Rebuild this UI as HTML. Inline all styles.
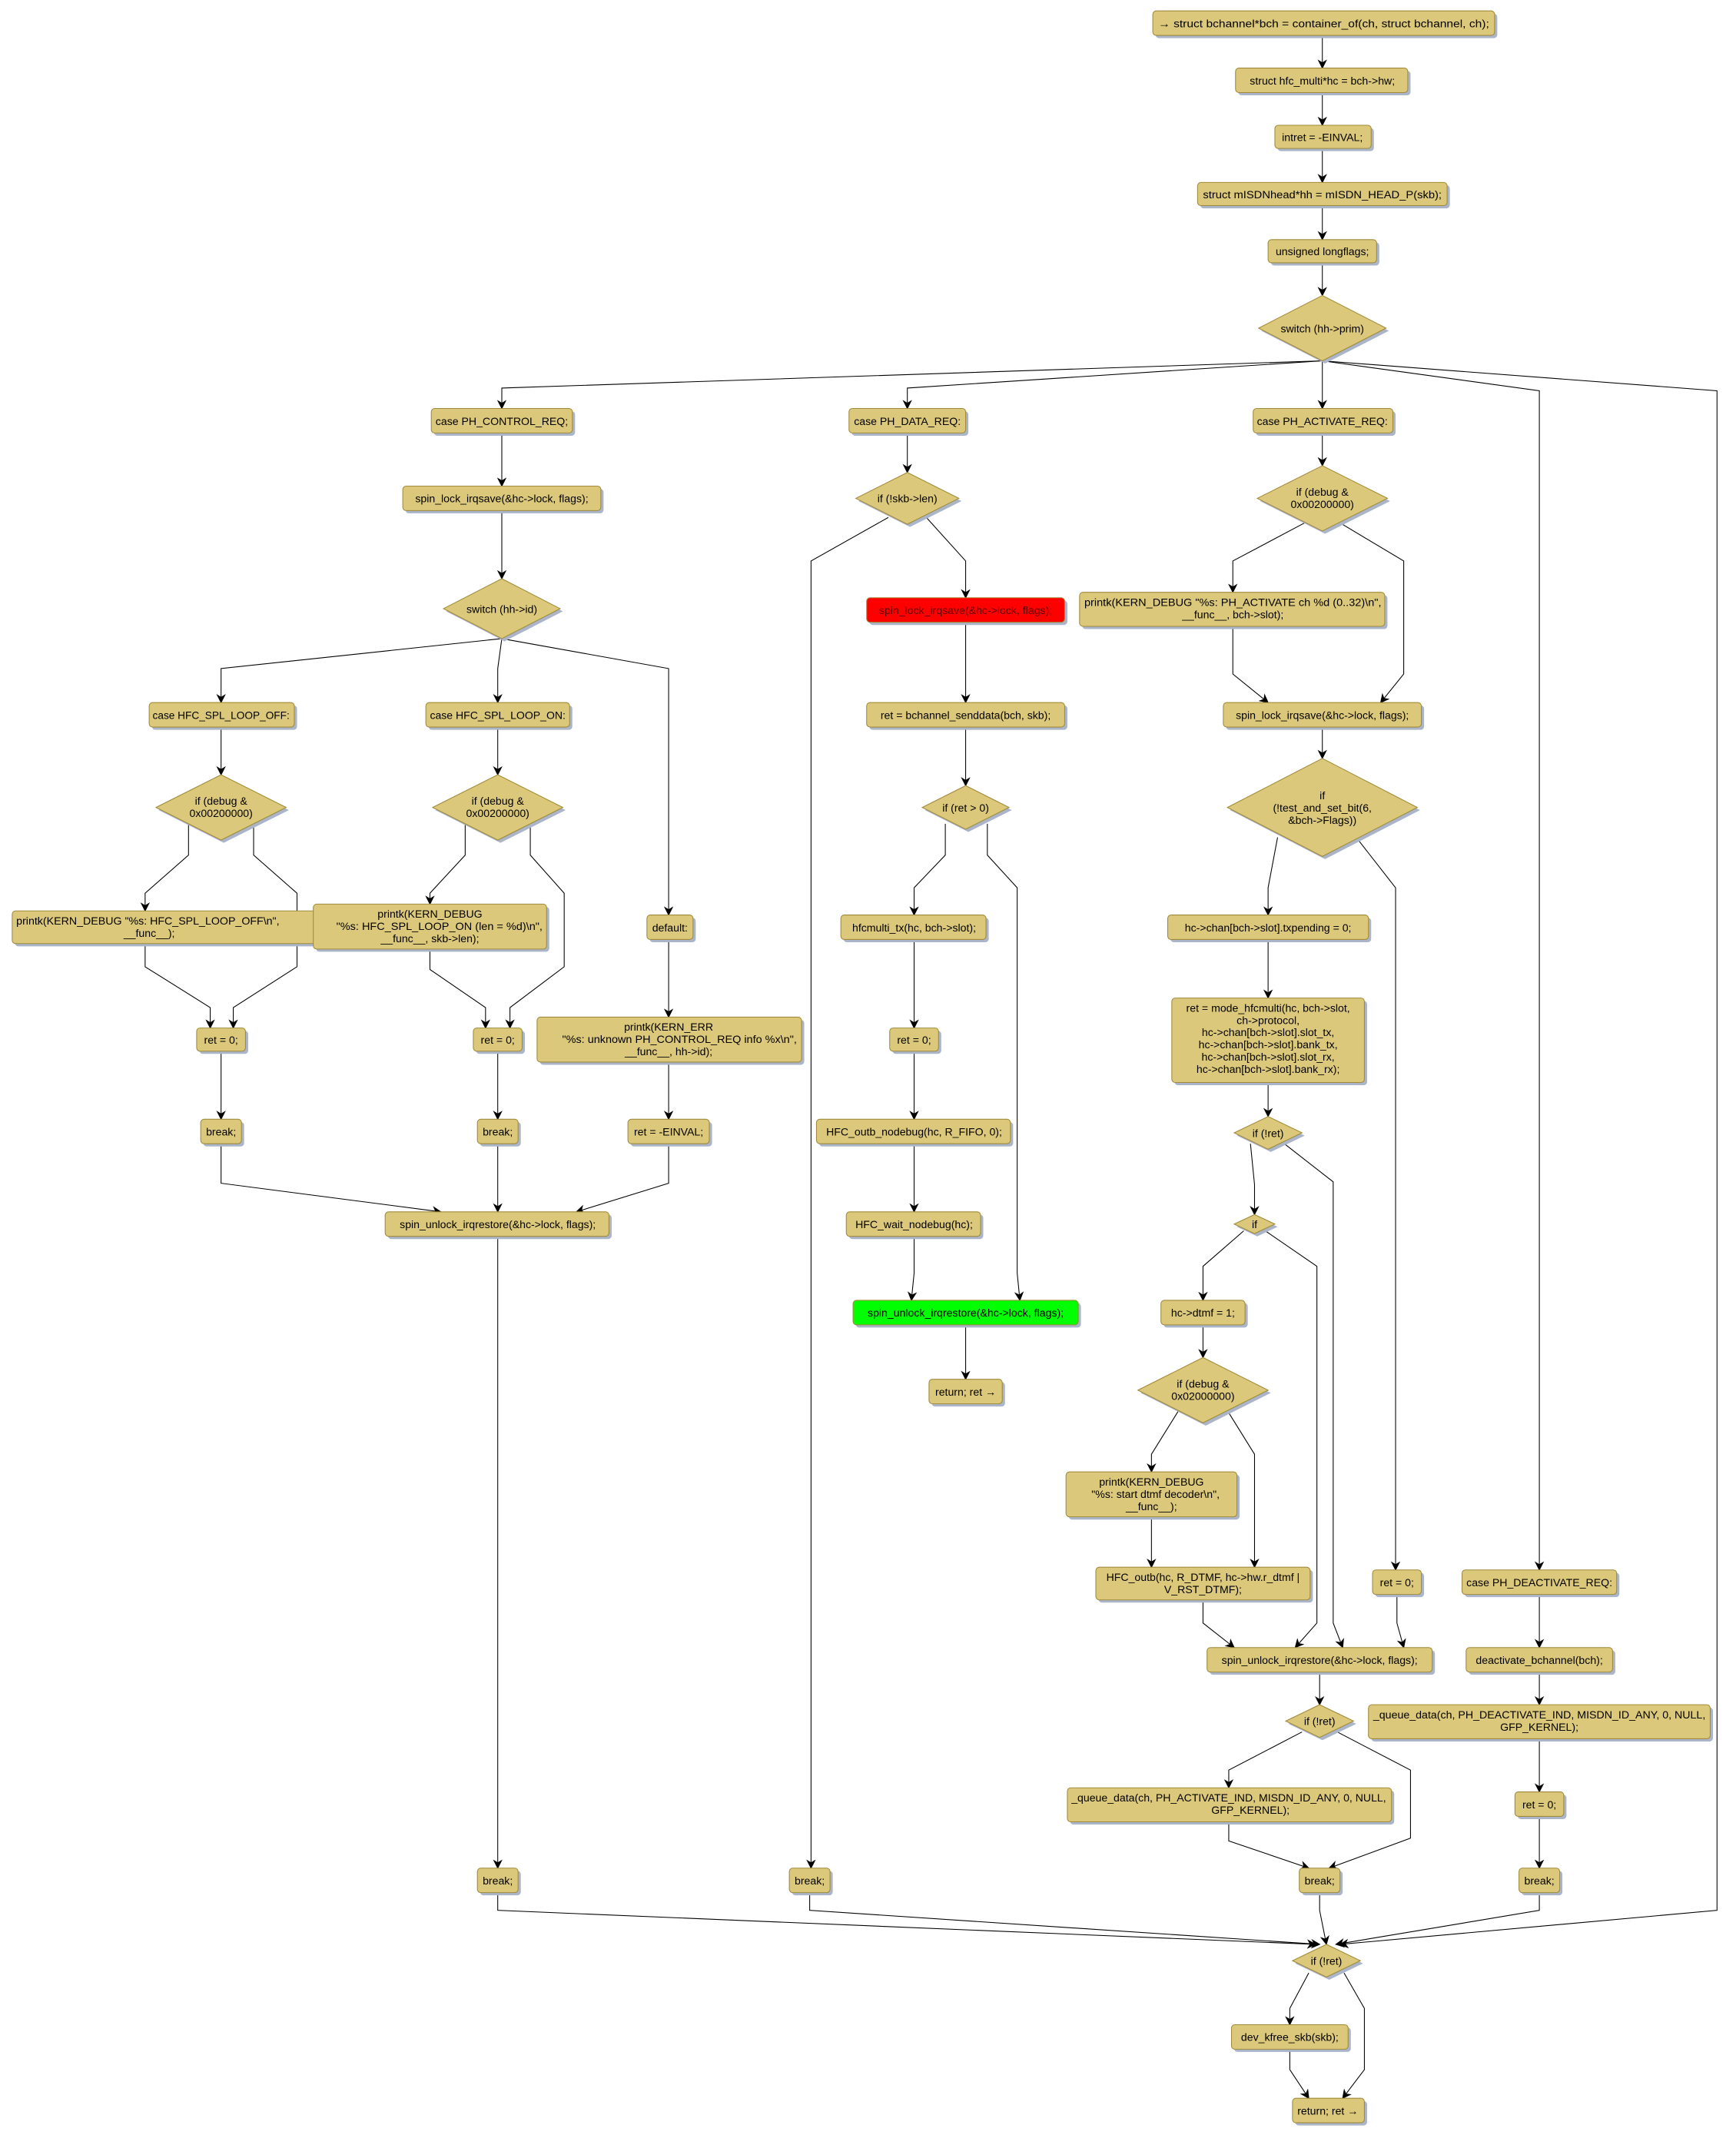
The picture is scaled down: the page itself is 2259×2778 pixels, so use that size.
<!DOCTYPE html>
<html><head><meta charset="utf-8">
<style>
html,body{margin:0;padding:0;background:#fff;}
svg{display:block;}
text{font-family:"Liberation Sans","DejaVu Sans",sans-serif;font-size:8px;fill:#000;text-anchor:middle;}
.b{fill:#dbc87a;stroke:#a08a3a;stroke-width:0.6;}
.s{fill:#aab5ca;}
.l{fill:none;stroke:#000;stroke-width:0.6;}
</style></head>
<body>
<svg width="2259" height="2778" viewBox="0 0 1280 1568" preserveAspectRatio="none" xmlns="http://www.w3.org/2000/svg">
<defs>
<marker id="a" viewBox="0 0 10 10" refX="9" refY="5" markerWidth="7" markerHeight="7" orient="auto" markerUnits="userSpaceOnUse">
<path d="M0,0 L10,5 L0,10 L3,5 Z" fill="#000"/>
</marker>
</defs>

<g class="l" marker-end="url(#a)">
<polyline class="l" points="975,26 975,50"/>
<polyline class="l" points="975,68 975,92"/>
<polyline class="l" points="975,109 975,134"/>
<polyline class="l" points="975,151 975,176"/>
<polyline class="l" points="975,193 975,217"/>
<polyline class="l" points="975,265 370,285 370,300"/>
<polyline class="l" points="975,265 669,285 669,300"/>
<polyline class="l" points="975,265 975,300"/>
<polyline class="l" points="975,265 1135,287 1135,1153"/>
<polyline class="l" points="975,265 1266,287 1266,1403 988,1428"/>
<polyline class="l" points="370,318 370,357"/>
<polyline class="l" points="370,375 370,425"/>
<polyline class="l" points="370,469 163,491 163,516"/>
<polyline class="l" points="370,469 367,491 367,516"/>
<polyline class="l" points="370,469 493,491 493,672"/>
<polyline class="l" points="163,534 163,569"/>
<polyline class="l" points="367,534 367,569"/>
<polyline class="l" points="139,605 139,628 107,656 107,669"/>
<polyline class="l" points="187,605 187,628 219,656 219,710 172,740 172,755"/>
<polyline class="l" points="107,693 107,710 155,740 155,755"/>
<polyline class="l" points="343,605 343,628 317,656 317,664"/>
<polyline class="l" points="391,605 391,628 416,656 416,710 376,740 376,755"/>
<polyline class="l" points="317,697 317,712 358,740 358,755"/>
<polyline class="l" points="493,690 493,747"/>
<polyline class="l" points="163,772 163,822"/>
<polyline class="l" points="367,772 367,822"/>
<polyline class="l" points="493,780 493,822"/>
<polyline class="l" points="163,840 163,869 325,890"/>
<polyline class="l" points="367,840 367,890"/>
<polyline class="l" points="493,840 493,869 425,890"/>
<polyline class="l" points="367,908 367,1372"/>
<polyline class="l" points="367,1390 367,1403 970,1428"/>
<polyline class="l" points="669,318 669,347"/>
<polyline class="l" points="655,380 598,412 598,1372"/>
<polyline class="l" points="683,380 712,412 712,439"/>
<polyline class="l" points="712,457 712,516"/>
<polyline class="l" points="712,534 712,577"/>
<polyline class="l" points="697,605 697,628 674,652 674,672"/>
<polyline class="l" points="728,605 728,628 750,652 750,935 752,955"/>
<polyline class="l" points="674,690 674,755"/>
<polyline class="l" points="674,772 674,822"/>
<polyline class="l" points="674,840 674,890"/>
<polyline class="l" points="674,908 674,935 672,955"/>
<polyline class="l" points="712,973 712,1013"/>
<polyline class="l" points="597,1390 597,1403 973,1428"/>
<polyline class="l" points="975,318 975,342"/>
<polyline class="l" points="962,384 909,412 909,435"/>
<polyline class="l" points="988,384 1035,412 1035,495 1018,516"/>
<polyline class="l" points="909,460 909,495 935,516"/>
<polyline class="l" points="975,534 975,557"/>
<polyline class="l" points="942,615 935,652 935,672"/>
<polyline class="l" points="1000,615 1029,652 1029,1153"/>
<polyline class="l" points="935,690 935,733"/>
<polyline class="l" points="935,795 935,820"/>
<polyline class="l" points="922,840 925,870 925,892"/>
<polyline class="l" points="947,840 983,868 983,1192 990,1210"/>
<polyline class="l" points="917,904 887,930 887,955"/>
<polyline class="l" points="933,904 971,930 971,1192 955,1210"/>
<polyline class="l" points="887,973 887,997"/>
<polyline class="l" points="869,1036 849,1068 849,1081"/>
<polyline class="l" points="905,1036 925,1068 925,1151"/>
<polyline class="l" points="849,1114 849,1151"/>
<polyline class="l" points="887,1175 887,1192 910,1210"/>
<polyline class="l" points="1030,1171 1030,1192 1035,1210"/>
<polyline class="l" points="973,1228 973,1252"/>
<polyline class="l" points="960,1272 906,1300 906,1313"/>
<polyline class="l" points="986,1272 1040,1300 1040,1350 980,1372"/>
<polyline class="l" points="906,1338 906,1352 965,1372"/>
<polyline class="l" points="973,1390 973,1403 978,1428"/>
<polyline class="l" points="1135,1171 1135,1210"/>
<polyline class="l" points="1135,1228 1135,1252"/>
<polyline class="l" points="1135,1277 1135,1316"/>
<polyline class="l" points="1135,1334 1135,1372"/>
<polyline class="l" points="1135,1390 1135,1403 985,1428"/>
<polyline class="l" points="965,1449 951,1475 951,1487"/>
<polyline class="l" points="991,1449 1006,1475 1006,1520 990,1541"/>
<polyline class="l" points="951,1505 951,1520 965,1541"/>
</g>

<g>
<rect class="s" x="852" y="10" width="252" height="18" rx="2.5"/><rect class="b" x="850" y="8" width="252" height="18" rx="2.5"/>
<text x="976" y="20" textLength="244" lengthAdjust="spacingAndGlyphs">→ struct bchannel*bch = container_of(ch, struct bchannel, ch);</text>
<rect class="s" x="913" y="52" width="127" height="18" rx="2.5"/><rect class="b" x="911" y="50" width="127" height="18" rx="2.5"/>
<text x="975" y="62">struct hfc_multi*hc = bch-&gt;hw;</text>
<rect class="s" x="942" y="94" width="71" height="17" rx="2.5"/><rect class="b" x="940" y="92" width="71" height="17" rx="2.5"/>
<text x="975" y="103.5">intret = -EINVAL;</text>
<rect class="s" x="885" y="136" width="184" height="17" rx="2.5"/><rect class="b" x="883" y="134" width="184" height="17" rx="2.5"/>
<text x="975" y="145.5" textLength="176" lengthAdjust="spacingAndGlyphs">struct mISDNhead*hh = mISDN_HEAD_P(skb);</text>
<rect class="s" x="937" y="178" width="80" height="17" rx="2.5"/><rect class="b" x="935" y="176" width="80" height="17" rx="2.5"/>
<text x="975" y="187.5">unsigned longflags;</text>
<polygon class="s" points="930,243 977,219 1024,243 977,267"/><polygon class="b" points="928,241 975,217 1022,241 975,265"/>
<text x="975" y="244">switch (hh-&gt;prim)</text>

<rect class="s" x="320" y="302" width="104" height="18" rx="2.5"/><rect class="b" x="318" y="300" width="104" height="18" rx="2.5"/>
<text x="370" y="312">case PH_CONTROL_REQ;</text>
<rect class="s" x="299" y="359" width="146" height="18" rx="2.5"/><rect class="b" x="297" y="357" width="146" height="18" rx="2.5"/>
<text x="370" y="369">spin_lock_irqsave(&amp;hc-&gt;lock, flags);</text>
<polygon class="s" points="329,449 372,427 415,449 372,471"/><polygon class="b" points="327,447 370,425 413,447 370,469"/>
<text x="370" y="450">switch (hh-&gt;id)</text>
<rect class="s" x="112" y="518" width="107" height="18" rx="2.5"/><rect class="b" x="110" y="516" width="107" height="18" rx="2.5"/>
<text x="163" y="528" textLength="101" lengthAdjust="spacingAndGlyphs">case HFC_SPL_LOOP_OFF:</text>
<rect class="s" x="316" y="518" width="106" height="18" rx="2.5"/><rect class="b" x="314" y="516" width="106" height="18" rx="2.5"/>
<text x="367" y="528" textLength="100" lengthAdjust="spacingAndGlyphs">case HFC_SPL_LOOP_ON:</text>
<polygon class="s" points="117,595 165,571 213,595 165,619"/><polygon class="b" points="115,593 163,569 211,593 163,617"/>
<text x="163" y="591">if (debug &amp;</text><text x="163" y="600">0x00200000)</text>
<polygon class="s" points="321,595 369,571 417,595 369,619"/><polygon class="b" points="319,593 367,569 415,593 367,617"/>
<text x="367" y="591">if (debug &amp;</text><text x="367" y="600">0x00200000)</text>
<rect class="s" x="11" y="671" width="229" height="24" rx="2.5"/><rect class="b" x="9" y="669" width="229" height="24" rx="2.5"/>
<text x="109" y="679" textLength="194" lengthAdjust="spacingAndGlyphs">printk(KERN_DEBUG "%s: HFC_SPL_LOOP_OFF\n",</text><text x="110" y="688">__func__);</text>
<rect class="s" x="233" y="666" width="172" height="33" rx="2.5"/><rect class="b" x="231" y="664" width="172" height="33" rx="2.5"/>
<text x="317" y="674">printk(KERN_DEBUG</text><text x="324" y="683" textLength="152" lengthAdjust="spacingAndGlyphs">"%s: HFC_SPL_LOOP_ON (len = %d)\n",</text><text x="317" y="692">__func__, skb-&gt;len);</text>
<rect class="s" x="479" y="674" width="34" height="18" rx="2.5"/><rect class="b" x="477" y="672" width="34" height="18" rx="2.5"/>
<text x="494" y="684">default:</text>
<rect class="s" x="147" y="757" width="36" height="17" rx="2.5"/><rect class="b" x="145" y="755" width="36" height="17" rx="2.5"/>
<text x="163" y="766.5">ret = 0;</text>
<rect class="s" x="351" y="757" width="36" height="17" rx="2.5"/><rect class="b" x="349" y="755" width="36" height="17" rx="2.5"/>
<text x="367" y="766.5">ret = 0;</text>
<rect class="s" x="398" y="749" width="195" height="33" rx="2.5"/><rect class="b" x="396" y="747" width="195" height="33" rx="2.5"/>
<text x="493" y="757">printk(KERN_ERR</text><text x="501" y="766" textLength="173" lengthAdjust="spacingAndGlyphs">"%s: unknown PH_CONTROL_REQ info %x\n",</text><text x="493" y="775">__func__, hh-&gt;id);</text>
<rect class="s" x="150" y="824" width="30" height="18" rx="2.5"/><rect class="b" x="148" y="822" width="30" height="18" rx="2.5"/>
<text x="163" y="834">break;</text>
<rect class="s" x="354" y="824" width="30" height="18" rx="2.5"/><rect class="b" x="352" y="822" width="30" height="18" rx="2.5"/>
<text x="367" y="834">break;</text>
<rect class="s" x="465" y="824" width="60" height="18" rx="2.5"/><rect class="b" x="463" y="822" width="60" height="18" rx="2.5"/>
<text x="493" y="834">ret = -EINVAL;</text>
<rect class="s" x="286" y="892" width="165" height="18" rx="2.5"/><rect class="b" x="284" y="890" width="165" height="18" rx="2.5"/>
<text x="367" y="902">spin_unlock_irqrestore(&amp;hc-&gt;lock, flags);</text>
<rect class="s" x="354" y="1374" width="30" height="18" rx="2.5"/><rect class="b" x="352" y="1372" width="30" height="18" rx="2.5"/>
<text x="367" y="1384">break;</text>

<rect class="s" x="628" y="302" width="86" height="18" rx="2.5"/><rect class="b" x="626" y="300" width="86" height="18" rx="2.5"/>
<text x="669" y="312">case PH_DATA_REQ:</text>
<polygon class="s" points="633,368 671,349 709,368 671,387"/><polygon class="b" points="631,366 669,347 707,366 669,385"/>
<text x="669" y="369">if (!skb-&gt;len)</text>
<rect class="s" x="641" y="441" width="146" height="18" rx="2.5"/><rect x="639" y="439" width="146" height="18" rx="2.5" fill="#ff0000" stroke="#a08a3a" stroke-width="0.6"/>
<text x="712" y="451" style="fill:#5a0000">spin_lock_irqsave(&amp;hc-&gt;lock, flags);</text>
<rect class="s" x="641" y="518" width="146" height="18" rx="2.5"/><rect class="b" x="639" y="516" width="146" height="18" rx="2.5"/>
<text x="712" y="528">ret = bchannel_senddata(bch, skb);</text>
<polygon class="s" points="682,595 714,579 746,595 714,611"/><polygon class="b" points="680,593 712,577 744,593 712,609"/>
<text x="712" y="596">if (ret &gt; 0)</text>
<rect class="s" x="622" y="674" width="107" height="18" rx="2.5"/><rect class="b" x="620" y="672" width="107" height="18" rx="2.5"/>
<text x="674" y="684">hfcmulti_tx(hc, bch-&gt;slot);</text>
<rect class="s" x="658" y="757" width="36" height="17" rx="2.5"/><rect class="b" x="656" y="755" width="36" height="17" rx="2.5"/>
<text x="674" y="766.5">ret = 0;</text>
<rect class="s" x="604" y="824" width="143" height="18" rx="2.5"/><rect class="b" x="602" y="822" width="143" height="18" rx="2.5"/>
<text x="674" y="834">HFC_outb_nodebug(hc, R_FIFO, 0);</text>
<rect class="s" x="626" y="892" width="99" height="18" rx="2.5"/><rect class="b" x="624" y="890" width="99" height="18" rx="2.5"/>
<text x="674" y="902">HFC_wait_nodebug(hc);</text>
<rect class="s" x="631" y="957" width="166" height="18" rx="2.5"/><rect x="629" y="955" width="166" height="18" rx="2.5" fill="#00ff00" stroke="#a08a3a" stroke-width="0.6"/>
<text x="712" y="967">spin_unlock_irqrestore(&amp;hc-&gt;lock, flags);</text>
<rect class="s" x="687" y="1015" width="54" height="18" rx="2.5"/><rect class="b" x="685" y="1013" width="54" height="18" rx="2.5"/>
<text x="712" y="1025">return; ret →</text>
<rect class="s" x="584" y="1374" width="30" height="18" rx="2.5"/><rect class="b" x="582" y="1372" width="30" height="18" rx="2.5"/>
<text x="597" y="1384">break;</text>

<rect class="s" x="926" y="302" width="103" height="18" rx="2.5"/><rect class="b" x="924" y="300" width="103" height="18" rx="2.5"/>
<text x="975" y="312">case PH_ACTIVATE_REQ:</text>
<polygon class="s" points="929,368 977,344 1025,368 977,392"/><polygon class="b" points="927,366 975,342 1023,366 975,390"/>
<text x="975" y="364">if (debug &amp;</text><text x="975" y="373">0x00200000)</text>
<rect class="s" x="798" y="437" width="225" height="25" rx="2.5"/><rect class="b" x="796" y="435" width="225" height="25" rx="2.5"/>
<text x="909" y="445" textLength="219" lengthAdjust="spacingAndGlyphs">printk(KERN_DEBUG "%s: PH_ACTIVATE ch %d (0..32)\n",</text><text x="909" y="454">__func__, bch-&gt;slot);</text>
<rect class="s" x="904" y="518" width="146" height="18" rx="2.5"/><rect class="b" x="902" y="516" width="146" height="18" rx="2.5"/>
<text x="975" y="528">spin_lock_irqsave(&amp;hc-&gt;lock, flags);</text>
<polygon class="s" points="907,595 977,559 1047,595 977,631"/><polygon class="b" points="905,593 975,557 1045,593 975,629"/>
<text x="975" y="587">if</text><text x="975" y="596">(!test_and_set_bit(6,</text><text x="975" y="605">&amp;bch-&gt;Flags))</text>
<rect class="s" x="863" y="674" width="148" height="18" rx="2.5"/><rect class="b" x="861" y="672" width="148" height="18" rx="2.5"/>
<text x="935" y="684">hc-&gt;chan[bch-&gt;slot].txpending = 0;</text>
<rect class="s" x="866" y="735" width="142" height="62" rx="2.5"/><rect class="b" x="864" y="733" width="142" height="62" rx="2.5"/>
<text x="935" y="743">ret = mode_hfcmulti(hc, bch-&gt;slot,</text>
<text x="935" y="752">ch-&gt;protocol,</text>
<text x="935" y="761">hc-&gt;chan[bch-&gt;slot].slot_tx,</text>
<text x="935" y="770">hc-&gt;chan[bch-&gt;slot].bank_tx,</text>
<text x="935" y="779">hc-&gt;chan[bch-&gt;slot].slot_rx,</text>
<text x="935" y="788">hc-&gt;chan[bch-&gt;slot].bank_rx);</text>
<polygon class="s" points="912,834 937,822 962,834 937,846"/><polygon class="b" points="910,832 935,820 960,832 935,844"/>
<text x="935" y="835">if (!ret)</text>
<polygon class="s" points="912,901 927,894 942,901 927,908"/><polygon class="b" points="910,899 925,892 940,899 925,906"/>
<text x="925" y="902">if</text>
<rect class="s" x="858" y="957" width="62" height="18" rx="2.5"/><rect class="b" x="856" y="955" width="62" height="18" rx="2.5"/>
<text x="887" y="967">hc-&gt;dtmf = 1;</text>
<polygon class="s" points="841,1023 889,999 937,1023 889,1047"/><polygon class="b" points="839,1021 887,997 935,1021 887,1045"/>
<text x="887" y="1019">if (debug &amp;</text><text x="887" y="1028">0x02000000)</text>
<rect class="s" x="788" y="1083" width="126" height="33" rx="2.5"/><rect class="b" x="786" y="1081" width="126" height="33" rx="2.5"/>
<text x="849" y="1091">printk(KERN_DEBUG</text><text x="852" y="1100">"%s: start dtmf decoder\n",</text><text x="849" y="1109">__func__);</text>
<rect class="s" x="810" y="1153" width="158" height="24" rx="2.5"/><rect class="b" x="808" y="1151" width="158" height="24" rx="2.5"/>
<text x="887" y="1161">HFC_outb(hc, R_DTMF, hc-&gt;hw.r_dtmf |</text><text x="887" y="1170">V_RST_DTMF);</text>
<rect class="s" x="1014" y="1155" width="36" height="18" rx="2.5"/><rect class="b" x="1012" y="1153" width="36" height="18" rx="2.5"/>
<text x="1030" y="1165">ret = 0;</text>
<rect class="s" x="892" y="1212" width="166" height="18" rx="2.5"/><rect class="b" x="890" y="1210" width="166" height="18" rx="2.5"/>
<text x="973" y="1222">spin_unlock_irqrestore(&amp;hc-&gt;lock, flags);</text>
<polygon class="s" points="950,1266 975,1254 1000,1266 975,1278"/><polygon class="b" points="948,1264 973,1252 998,1264 973,1276"/>
<text x="973" y="1267">if (!ret)</text>
<rect class="s" x="789" y="1315" width="239" height="25" rx="2.5"/><rect class="b" x="787" y="1313" width="239" height="25" rx="2.5"/>
<text x="906" y="1323" textLength="232" lengthAdjust="spacingAndGlyphs">_queue_data(ch, PH_ACTIVATE_IND, MISDN_ID_ANY, 0, NULL,</text><text x="922" y="1332">GFP_KERNEL);</text>
<rect class="s" x="960" y="1374" width="30" height="18" rx="2.5"/><rect class="b" x="958" y="1372" width="30" height="18" rx="2.5"/>
<text x="973" y="1384">break;</text>

<rect class="s" x="1080" y="1155" width="114" height="18" rx="2.5"/><rect class="b" x="1078" y="1153" width="114" height="18" rx="2.5"/>
<text x="1135" y="1165">case PH_DEACTIVATE_REQ:</text>
<rect class="s" x="1083" y="1212" width="108" height="18" rx="2.5"/><rect class="b" x="1081" y="1210" width="108" height="18" rx="2.5"/>
<text x="1135" y="1222">deactivate_bchannel(bch);</text>
<rect class="s" x="1011" y="1254" width="252" height="25" rx="2.5"/><rect class="b" x="1009" y="1252" width="252" height="25" rx="2.5"/>
<text x="1135" y="1262" textLength="245" lengthAdjust="spacingAndGlyphs">_queue_data(ch, PH_DEACTIVATE_IND, MISDN_ID_ANY, 0, NULL,</text><text x="1135" y="1271">GFP_KERNEL);</text>
<rect class="s" x="1119" y="1318" width="36" height="18" rx="2.5"/><rect class="b" x="1117" y="1316" width="36" height="18" rx="2.5"/>
<text x="1135" y="1328">ret = 0;</text>
<rect class="s" x="1122" y="1374" width="30" height="18" rx="2.5"/><rect class="b" x="1120" y="1372" width="30" height="18" rx="2.5"/>
<text x="1135" y="1384">break;</text>

<polygon class="s" points="955,1442 980,1430 1005,1442 980,1454"/><polygon class="b" points="953,1440 978,1428 1003,1440 978,1452"/>
<text x="978" y="1443">if (!ret)</text>
<rect class="s" x="910" y="1489" width="86" height="18" rx="2.5"/><rect class="b" x="908" y="1487" width="86" height="18" rx="2.5"/>
<text x="951" y="1499">dev_kfree_skb(skb);</text>
<rect class="s" x="955" y="1543" width="53" height="18" rx="2.5"/><rect class="b" x="953" y="1541" width="53" height="18" rx="2.5"/>
<text x="979" y="1553">return; ret →</text>
</g>
</svg>
</body></html>
